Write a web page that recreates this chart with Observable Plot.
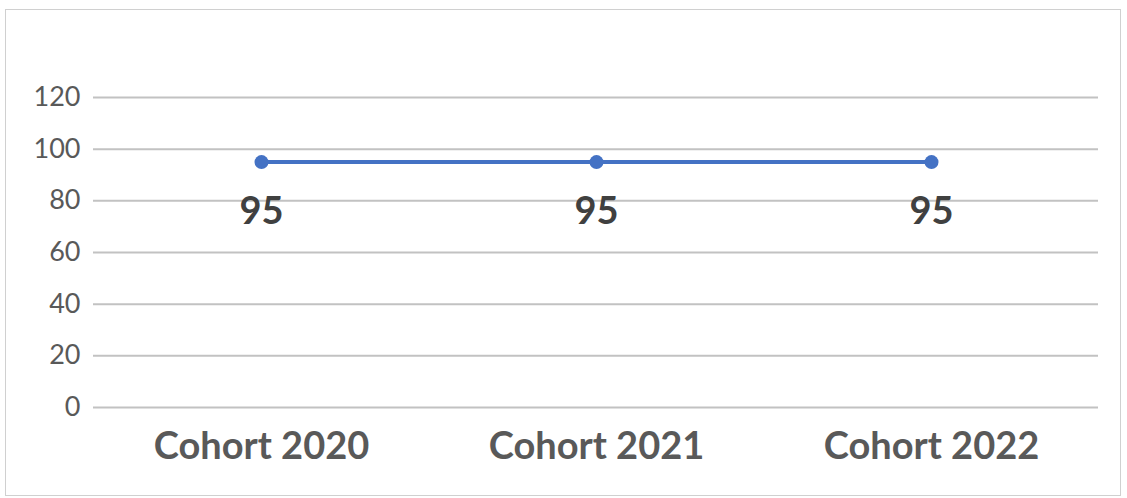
<!DOCTYPE html>
<html>
<head>
<meta charset="utf-8">
<script src="https://cdn.jsdelivr.net/npm/d3@7"></script>
<script src="https://cdn.jsdelivr.net/npm/@observablehq/plot@0.6"></script>
<style>
  html, body { margin: 0; padding: 0; background: #fff; }
  #wrap { position: relative; width: 1127px; height: 498px; overflow: hidden; }
  #frame { position: absolute; left: 5px; top: 9px; width: 1116px; height: 487px; border: 1px solid #d0d0d0; box-sizing: border-box; pointer-events: none; }
  #chart { position: absolute; left: 0; top: 0; }
</style>
</head>
<body>
<div id="wrap"><div id="chart"></div><div id="frame"></div></div>
<script>
const categories = ["Cohort 2020", "Cohort 2021", "Cohort 2022"];
const values = [95, 95, 95];
const yTicks = [0, 20, 40, 60, 80, 100, 120];

const data = categories.map((c, i) => ({cohort: c, value: values[i]}));

const chart = Plot.plot({
  width: 1127,
  height: 498,
  marginLeft: 93,
  marginRight: 29,
  marginTop: 97,
  marginBottom: 91,
  style: {fontFamily: "Lato, 'Open Sans', sans-serif", background: "transparent"},
  x: {type: "point", domain: categories, padding: 0.5, label: null},
  y: {domain: [0, 120], label: null},
  marks: [
    Plot.ruleY(yTicks, {stroke: "#c2c2c2", strokeWidth: 2}),
    Plot.axisY({ticks: yTicks, tickSize: 0, tickPadding: 13, fontSize: 27, fill: "#595959", label: null}),
    Plot.axisX({tickSize: 0, tickPadding: 25, fontSize: 38, fontWeight: "bold", fill: "#595959", label: null}),
    Plot.line(data, {x: "cohort", y: "value", stroke: "#4472C4", strokeWidth: 4}),
    Plot.dot(data, {x: "cohort", y: "value", r: 7, fill: "#4472C4", stroke: "none"}),
    Plot.text(data, {x: "cohort", y: "value", text: d => String(d.value), dy: 50, fontSize: 38, fontWeight: "bold", fill: "#404040"})
  ]
});
document.getElementById("chart").appendChild(chart);
</script>
</body>
</html>
